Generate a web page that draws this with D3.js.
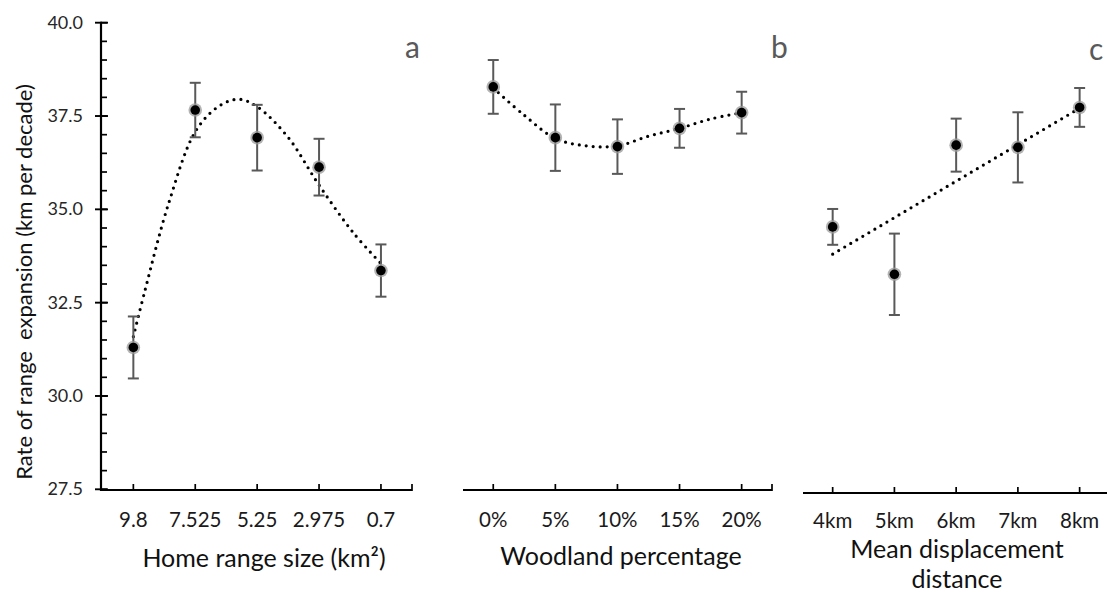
<!DOCTYPE html>
<html>
<head>
<meta charset="utf-8">
<script src="https://cdn.jsdelivr.net/npm/d3@7/dist/d3.min.js"></script>
<style>
  html, body { margin: 0; padding: 0; background: #fff; }
  svg { display: block; }
  text { font-family: Lato, "Open Sans", sans-serif; }
</style>
</head>
<body>
<svg id="chart" width="1107" height="593"></svg>
<script>
// ---------- data ----------
const yTicks = [27.5, 30.0, 32.5, 35.0, 37.5, 40.0];

const homeRangeLabels = ["9.8", "7.525", "5.25", "2.975", "0.7"];
const homeRangeMeans  = [31.30, 37.66, 36.92, 36.13, 33.36];
const homeRangeErrors = [0.83, 0.73, 0.88, 0.76, 0.70];
const homeRangeTrendX = [0, 0.19, 0.57, 1, 1.37, 1.7, 2, 2.49, 3, 3.56, 4];
const homeRangeTrendY = [31.59, 32.84, 35.16, 37.08, 37.75, 37.95, 37.75, 36.95, 35.65, 34.36, 33.55];

const woodlandLabels = ["0%", "5%", "10%", "15%", "20%"];
const woodlandMeans  = [38.28, 36.92, 36.68, 37.17, 37.59];
const woodlandErrors = [0.72, 0.89, 0.73, 0.52, 0.56];
const woodlandTrendX = [0, 0.5, 1, 1.5, 2, 2.5, 3, 3.5, 4];
const woodlandTrendY = [38.25, 37.52, 36.90, 36.70, 36.70, 36.96, 37.17, 37.42, 37.59];

const displacementLabels = ["4km", "5km", "6km", "7km", "8km"];
const displacementMeans  = [34.53, 33.26, 36.72, 36.66, 37.73];
const displacementErrors = [0.48, 1.09, 0.71, 0.94, 0.52];
const displacementTrendX = [0, 4];
const displacementTrendY = [33.80, 37.71];

// ---------- layout ----------
const svg = d3.select("#chart");
const y = d3.scaleLinear().domain([27.5, 40.0]).range([489.3, 22.7]);

const panels = [
  { labels: homeRangeLabels, means: homeRangeMeans, errs: homeRangeErrors,
    tx: homeRangeTrendX, ty: homeRangeTrendY, curve: d3.curveCatmullRom,
    range: [102.4, 411.9], axisY: 490, axisStart: 101, axisEnd: 412, endTick: true,
    letter: "a", letterX: 405, letterY: 58,
    title: ["Home range size (km\u00B2)"], titleX: 264, titleY: [567], tickLabelY: 527 },
  { labels: woodlandLabels, means: woodlandMeans, errs: woodlandErrors,
    tx: woodlandTrendX, ty: woodlandTrendY, curve: d3.curveCatmullRom,
    range: [462.2, 772.7], axisY: 490, axisStart: 463, axisEnd: 772, endTick: true,
    letter: "b", letterX: 771, letterY: 58,
    title: ["Woodland percentage"], titleX: 621, titleY: [565], tickLabelY: 527 },
  { labels: displacementLabels, means: displacementMeans, errs: displacementErrors,
    tx: displacementTrendX, ty: displacementTrendY, curve: d3.curveLinear,
    range: [801.8, 1110.5], axisY: 493, axisStart: 803, axisEnd: 1107, endTick: false,
    letter: "c", letterX: 1089, letterY: 60,
    title: ["Mean displacement", "distance"], titleX: 957, titleY: [558, 588], tickLabelY: 528 }
];

// ---------- y axis ----------
const yAxisX = 101;
const gy = svg.append("g");
gy.append("line").attr("x1", yAxisX).attr("x2", yAxisX)
  .attr("y1", y(40.0) - 1).attr("y2", 491)
  .attr("stroke", "#000").attr("stroke-width", 2.2);
const minorTicks = d3.range(27.5, 40.01, 0.5);
gy.selectAll("line.minor").data(minorTicks).enter().append("line")
  .attr("class", "minor")
  .attr("x1", yAxisX).attr("x2", yAxisX + 6)
  .attr("y1", d => y(d)).attr("y2", d => y(d))
  .attr("stroke", "#000").attr("stroke-width", 1.7);
gy.selectAll("line.major").data(yTicks).enter().append("line")
  .attr("class", "major")
  .attr("x1", yAxisX - 6).attr("x2", yAxisX + 7)
  .attr("y1", d => y(d)).attr("y2", d => y(d))
  .attr("stroke", "#000").attr("stroke-width", 1.9);
gy.selectAll("text").data(yTicks).enter().append("text")
  .attr("x", 83).attr("y", d => y(d) + 6)
  .attr("text-anchor", "end").attr("font-size", 18).attr("fill", "#262626")
  .text(d => d3.format(".1f")(d));

svg.append("text")
  .attr("transform", "translate(32,282) rotate(-90)")
  .attr("text-anchor", "middle").attr("font-size", 22).attr("fill", "#111")
  .attr("xml:space", "preserve")
  .text("Rate of range  expansion (km per decade)");

// ---------- panels ----------
panels.forEach(p => {
  const x = d3.scaleLinear().domain([-0.5, 4.5]).range(p.range);
  const idx = d3.range(p.labels.length);
  const g = svg.append("g");

  // x axis line
  g.append("line").attr("x1", p.axisStart).attr("x2", p.axisEnd)
    .attr("y1", p.axisY).attr("y2", p.axisY)
    .attr("stroke", "#000").attr("stroke-width", 2.2);
  // ticks
  const tickPos = idx.map(i => x(i));
  g.selectAll("line.xt").data(tickPos).enter().append("line")
    .attr("class", "xt")
    .attr("x1", d => d).attr("x2", d => d)
    .attr("y1", p.axisY).attr("y2", p.axisY - 6)
    .attr("stroke", "#000").attr("stroke-width", 1.7);
  if (p.endTick) {
    g.append("line").attr("x1", p.axisEnd).attr("x2", p.axisEnd)
      .attr("y1", p.axisY + 1).attr("y2", p.axisY - 6)
      .attr("stroke", "#000").attr("stroke-width", 1.7);
  }
  // tick labels
  g.selectAll("text.xl").data(idx).enter().append("text")
    .attr("class", "xl")
    .attr("x", i => x(i)).attr("y", p.tickLabelY)
    .attr("text-anchor", "middle").attr("font-size", 20.5).attr("fill", "#1a1a1a")
    .text(i => p.labels[i]);
  // axis title
  p.title.forEach((t, k) => {
    g.append("text").attr("x", p.titleX).attr("y", p.titleY[k])
      .attr("text-anchor", "middle").attr("font-size", 25).attr("fill", "#111")
      .text(t);
  });
  // panel letter
  g.append("text").attr("x", p.letterX).attr("y", p.letterY)
    .attr("font-size", 30).attr("fill", "#595959").text(p.letter);

  // trend line
  const trend = p.tx.map((v, k) => [v, p.ty[k]]);
  g.append("path").datum(trend)
    .attr("d", d3.line().x(d => x(d[0])).y(d => y(d[1])).curve(p.curve))
    .attr("fill", "none").attr("stroke", "#000").attr("stroke-width", 3.2)
    .attr("stroke-linecap", "round").attr("stroke-dasharray", "0 7");

  // error bars
  const eb = g.selectAll("g.eb").data(idx).enter().append("g").attr("class", "eb");
  eb.append("line")
    .attr("x1", i => x(i)).attr("x2", i => x(i))
    .attr("y1", i => y(p.means[i] + p.errs[i])).attr("y2", i => y(p.means[i] - p.errs[i]))
    .attr("stroke", "#595959").attr("stroke-width", 2);
  eb.append("line")
    .attr("x1", i => x(i) - 5.5).attr("x2", i => x(i) + 5.5)
    .attr("y1", i => y(p.means[i] + p.errs[i])).attr("y2", i => y(p.means[i] + p.errs[i]))
    .attr("stroke", "#595959").attr("stroke-width", 2);
  eb.append("line")
    .attr("x1", i => x(i) - 5.5).attr("x2", i => x(i) + 5.5)
    .attr("y1", i => y(p.means[i] - p.errs[i])).attr("y2", i => y(p.means[i] - p.errs[i]))
    .attr("stroke", "#595959").attr("stroke-width", 2);

  // markers
  g.selectAll("circle.halo").data(idx).enter().append("circle")
    .attr("class", "halo")
    .attr("cx", i => x(i)).attr("cy", i => y(p.means[i])).attr("r", 6.8)
    .attr("fill", "#9a9a9a").attr("opacity", 0.75);
  g.selectAll("circle.dot").data(idx).enter().append("circle")
    .attr("class", "dot")
    .attr("cx", i => x(i)).attr("cy", i => y(p.means[i])).attr("r", 4.8)
    .attr("fill", "#000");
});
</script>
</body>
</html>
